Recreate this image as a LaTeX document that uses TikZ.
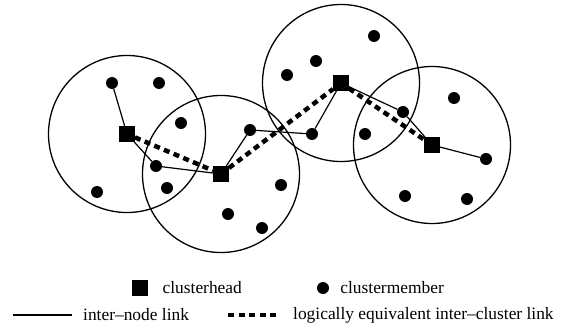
\documentclass[tikz,border=0pt]{standalone}
\usepackage{fontspec}
\setmainfont{Liberation Serif}
\usetikzlibrary{positioning}
\tikzset{
  % cluster range
  crange/.style={draw, line width=1.3pt},
  % clusterhead and member symbols
  head/.style={rectangle, fill=black, minimum size=15.5pt, inner sep=0pt},
  member/.style={circle, fill=black, minimum size=12pt, inner sep=0pt},
  % links
  link/.style={line width=1.2pt},
  clink/.style={line width=4.5pt, dash pattern=on 6pt off 4.5pt},
  % legend text
  ltext/.style={font=\fontsize{17.4}{20}\selectfont, inner sep=0pt, anchor=west},
}

\begin{document}
\begin{tikzpicture}[x=1pt, y=-1pt]
  \useasboundingbox (0,0) rectangle (570,329);

  %% Clusterheads
  \node[head] (ch1) at (127,134) {};
  \node[head] (ch2) at (221,174) {};
  \node[head] (ch3) at (341,83)  {};
  \node[head] (ch4) at (432,145) {};

  %% Cluster ranges
  \foreach \c in {ch1,ch2,ch3,ch4}
    \draw[crange] (\c) circle[radius=78.5];

  %% Cluster members
  \foreach \n/\x/\y in {
    m1/112/83, m2/159/83, m3/181/123, m4/156/166, m5/167/188, m6/97/192,
    m7/250/130, m8/281/185, m9/228/214, m10/262/228,
    m11/374/36, m12/316/61, m13/287/75, m14/312/134, m15/365/134, m16/403/112,
    m17/454/98, m18/486/159, m19/405/196, m20/467/199}{
    \node[member] (\n) at (\x,\y) {};
  }

  %% Inter-node links
  \draw[link] (ch1) -- (m1);
  \draw[link] (ch1) -- (m4) -- (ch2) -- (m7) -- (m14) -- (ch3) -- (m16) -- (ch4) -- (m18);

  %% Logically equivalent inter-cluster links
  \draw[clink] (ch1) -- (ch2) -- (ch3) -- (ch4);

  %% Legend
  \node[head] (lhead) at (140,288) {};
  \node[ltext, right=14.5pt of lhead] (lheadtxt) {clusterhead};
  \node[member] (lmember) at (323,288) {};
  \node[ltext, right=11pt of lmember] (lmembertxt) {clustermember};

  \coordinate (la) at (13,315);
  \coordinate (lb) at (72,315);
  \draw[link] (la) -- (lb);
  \node[ltext, right=11pt of lb] (llinktxt) {inter--node link};

  \coordinate (lc) at (228,315);
  \coordinate (ld) at (279,315);
  \draw[clink] (lc) -- (ld);
  \node[ltext, right=14pt of ld] (lclinktxt) {logically equivalent inter--cluster link};
\end{tikzpicture}
\end{document}
